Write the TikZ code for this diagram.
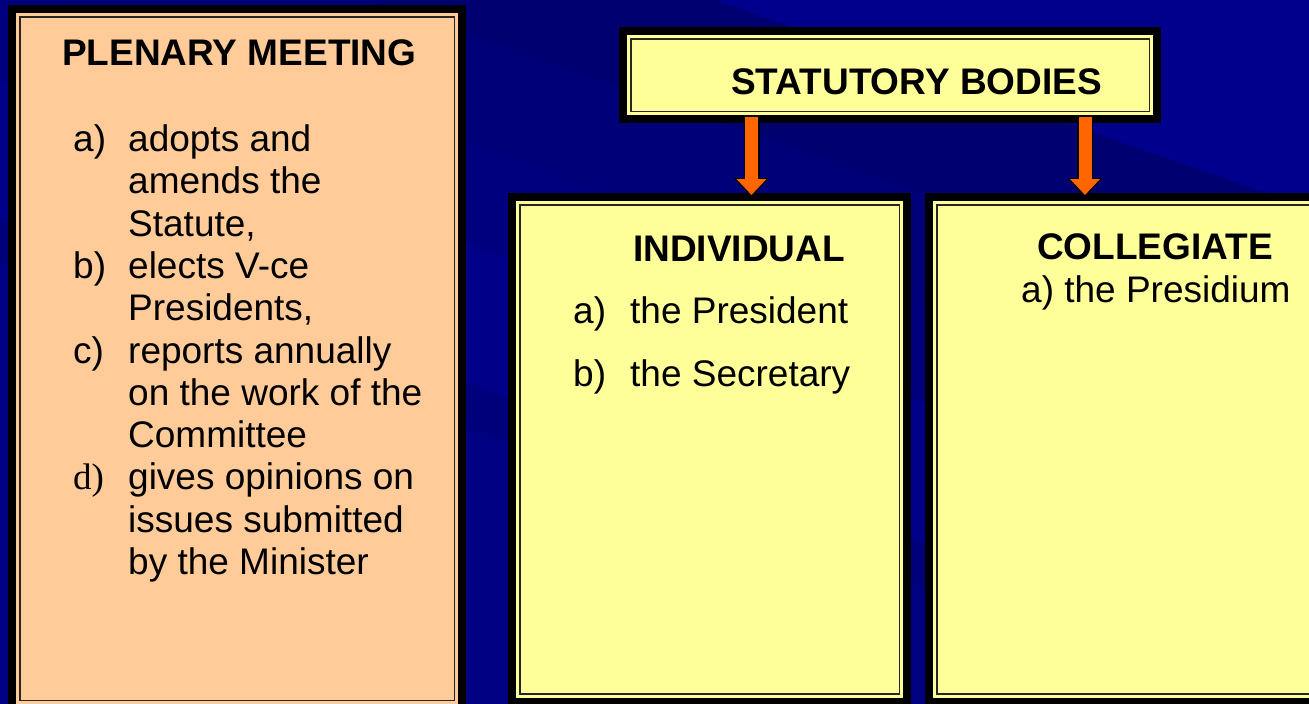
\documentclass[tikz,border=0pt]{standalone}
\usepackage{fontspec}
\setmainfont{Liberation Sans}
\newfontfamily\timesfont{Liberation Serif}
\usetikzlibrary{arrows.meta,calc}

\definecolor{peach}{HTML}{FFCC99}
\definecolor{paleyellow}{HTML}{FFFF99}
\definecolor{arroworange}{HTML}{FF6600}
\definecolor{navybase}{HTML}{000082}

\begin{document}
\begin{tikzpicture}[x=1pt,y=-1pt,
  panel/.style={rectangle, draw=black, line width=8pt, inner sep=0pt, outer sep=0pt},
  innerline/.style={draw=black!85, line width=1.5pt},
  txt/.style={anchor=base west, inner sep=0pt, font=\fontsize{37}{44}\selectfont},
  headtxt/.style={txt, font=\fontsize{37}{44}\selectfont\bfseries},
  arrowback/.style={draw=black, line width=16pt, -{Triangle[width=34pt,length=19pt]}},
  arrowfront/.style={draw=arroworange, line width=13pt, shorten >=2pt,
    -{Triangle[width=29pt,length=16pt]}},
  band/.style={draw=none}
]
\useasboundingbox (0,0) rectangle (1309,704);
\clip (0,0) rectangle (1309,704);

% background with soft diagonal bands
\fill[navybase] (0,0) rectangle (1309,704);
\def\bandslope{0.35}
\foreach \ca/\cb/\col in {-700/-250/00008C, -250/-130/000070, -130/-20/000078,
                          -20/80/00007E, 80/220/000088, 220/265/00007A, 265/900/000082}{
  \definecolor{bandcol}{HTML}{\col}
  \fill[band, bandcol] (-10,{\ca-10*\bandslope}) -- (1320,{\ca+1320*\bandslope})
        -- (1320,{\cb+1320*\bandslope}) -- (-10,{\cb-10*\bandslope}) -- cycle;
}

% boxes
\node[panel, fill=peach, minimum width=450pt, minimum height=699pt] (plen) at (237,358.5) {};
\node[panel, fill=paleyellow, minimum width=534pt, minimum height=88pt] (stat) at (890,75) {};
\node[panel, fill=paleyellow, minimum width=395pt, minimum height=504.5pt] (ind) at (709.5,449.25) {};
\node[panel, fill=paleyellow, minimum width=401pt, minimum height=504.5pt] (coll) at (1129.5,449.25) {};

\foreach \n in {plen,stat,ind,coll}
  \draw[innerline] ([shift={(7.75,7.75)}]\n.north west) rectangle ([shift={(-7.75,-7.75)}]\n.south east);

% arrows from the statutory bodies to the two groups
\coordinate (ax1) at (751.5,0);
\coordinate (ax2) at (1085,0);
\draw[arrowback]  ([yshift=2pt]ax1 |- stat.south) -- (ax1 |- ind.north);
\draw[arrowfront] ([yshift=2pt]ax1 |- stat.south) -- (ax1 |- ind.north);
\draw[arrowback]  ([yshift=2pt]ax2 |- stat.south) -- (ax2 |- coll.north);
\draw[arrowfront] ([yshift=2pt]ax2 |- stat.south) -- (ax2 |- coll.north);

% plenary meeting
\node[headtxt] (plenhead) at (62,65) {PLENARY MEETING};
\node[txt] (la) at (73,151.5) {a)};
\node[txt] (la1) at (128,151.5) {adopts and};
\node[txt] (la2) at (128,193.8) {amends the};
\node[txt] (la3) at (128,236.1) {Statute,};
\node[txt] (lb) at (73,278.4) {b)};
\node[txt] (lb1) at (128,278.4) {elects V-ce};
\node[txt] (lb2) at (128,320.7) {Presidents,};
\node[txt] (lc) at (73,363.0) {c)};
\node[txt] (lc1) at (128,363.0) {reports annually};
\node[txt] (lc2) at (128,405.3) {on the work of the};
\node[txt] (lc3) at (128,447.6) {Committee};
\node[txt, font=\fontsize{37}{44}\selectfont\timesfont] (ld) at (73,489.9) {d)};
\node[txt] (ld1) at (128,489.9) {gives opinions on};
\node[txt] (ld2) at (128,532.2) {issues submitted};
\node[txt] (ld3) at (128,574.5) {by the Minister};

% statutory bodies
\node[headtxt] (stathead) at (731,94) {STATUTORY BODIES};

% individual bodies
\node[headtxt] (indhead) at (633,261) {INDIVIDUAL};
\node[txt] (ia) at (573,323) {a)};
\node[txt] (ia1) at (630,323) {the President};
\node[txt] (ib) at (573,386) {b)};
\node[txt] (ib1) at (630,386) {the Secretary};

% collegiate bodies
\node[headtxt] (collhead) at (1037,259) {COLLEGIATE};
\node[txt] (ca1) at (1021,302) {a) the Presidium};
\end{tikzpicture}
\end{document}
